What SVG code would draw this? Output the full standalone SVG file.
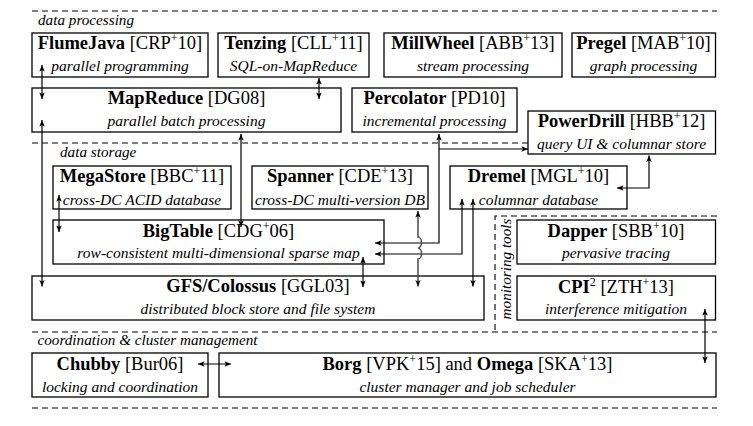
<svg xmlns="http://www.w3.org/2000/svg" width="753" height="426" viewBox="0 0 753 426">
<style>
text{font-family:'Liberation Serif','Times New Roman',Times,'DejaVu Serif',serif;fill:#000}
.box{fill:#fff;stroke:#000;stroke-width:1.3}
.t{font-size:18.5px;text-anchor:middle}
.b{font-weight:bold}
.sup{font-size:12px}
.s{font-style:italic;font-size:15.5px;text-anchor:middle}
.sec{font-style:italic;font-size:15.2px}
.dash{stroke:#000;stroke-width:1.1;stroke-dasharray:6 4;fill:none}
.c{stroke:#000;stroke-width:1.2;fill:none;marker-start:url(#ah);marker-end:url(#ah)}
.c1{stroke:#000;stroke-width:1.2;fill:none;marker-end:url(#ah)}
.w{stroke:#555;stroke-width:1.6;fill:none;marker-start:url(#ah);marker-end:url(#ah)}
</style>
<defs>
<marker id="ah" markerUnits="userSpaceOnUse" viewBox="-8 -4 9 8" refX="0" refY="0" markerWidth="9" markerHeight="8" orient="auto-start-reverse">
<path d="M0,0 L-6.5,-2.7 L-5,0 L-6.5,2.7 Z" fill="#000"/>
</marker>
</defs>
<g id="sections" font-family="Liberation Serif, serif">
<line class="dash" x1="32" y1="11" x2="717" y2="11"/>
<text class="sec" x="38" y="25">data processing</text>
<line class="dash" x1="32" y1="143" x2="528" y2="143"/>
<text class="sec" x="60" y="157">data storage</text>
<polyline class="dash" points="717,216 495,216 495,332"/>
<text class="sec" transform="translate(511,269) rotate(-90)" text-anchor="middle">monitoring tools</text>
<line class="dash" x1="32" y1="332" x2="717" y2="332"/>
<text class="sec" x="37.5" y="345">coordination &amp; cluster management</text>
<line class="dash" x1="32" y1="408" x2="717" y2="408"/>
</g>
<g id="flumejava">
<rect class="box" x="32" y="33" width="176" height="44"/>
<text class="t" x="120" y="49"><tspan class="b">FlumeJava</tspan> [CRP<tspan class="sup" dy="-7">+</tspan><tspan dy="7">10]</tspan></text>
<text class="s" x="120" y="71">parallel programming</text>
</g>
<g id="tenzing">
<rect class="box" x="218" y="33" width="151" height="44"/>
<text class="t" x="293.5" y="49"><tspan class="b">Tenzing</tspan> [CLL<tspan class="sup" dy="-7">+</tspan><tspan dy="7">11]</tspan></text>
<text class="s" x="293.5" y="71">SQL-on-MapReduce</text>
</g>
<g id="millwheel">
<rect class="box" x="384" y="33" width="178" height="44"/>
<text class="t" x="473" y="49"><tspan class="b">MillWheel</tspan> [ABB<tspan class="sup" dy="-7">+</tspan><tspan dy="7">13]</tspan></text>
<text class="s" x="473" y="71">stream processing</text>
</g>
<g id="pregel">
<rect class="box" x="572" y="33" width="143.5" height="44"/>
<text class="t" x="643.5" y="49"><tspan class="b">Pregel</tspan> [MAB<tspan class="sup" dy="-7">+</tspan><tspan dy="7">10]</tspan></text>
<text class="s" x="643.5" y="71">graph processing</text>
</g>
<g id="mapreduce">
<rect class="box" x="32" y="88" width="309" height="44"/>
<text class="t" x="186.5" y="104"><tspan class="b">MapReduce</tspan> [DG08]</text>
<text class="s" x="186.5" y="126">parallel batch processing</text>
</g>
<g id="percolator">
<rect class="box" x="352" y="88" width="165" height="44"/>
<text class="t" x="434.5" y="104"><tspan class="b">Percolator</tspan> [PD10]</text>
<text class="s" x="434.5" y="126">incremental processing</text>
</g>
<g id="powerdrill">
<rect class="box" x="528" y="111" width="187.5" height="43"/>
<text class="t" x="621.5" y="127"><tspan class="b">PowerDrill</tspan> [HBB<tspan class="sup" dy="-7">+</tspan><tspan dy="7">12]</tspan></text>
<text class="s" x="621.5" y="148.5">query UI &amp; columnar store</text>
</g>
<g id="megastore">
<rect class="box" x="53" y="166" width="178" height="43"/>
<text class="t" x="142" y="182"><tspan class="b">MegaStore</tspan> [BBC<tspan class="sup" dy="-7">+</tspan><tspan dy="7">11]</tspan></text>
<text class="s" x="142" y="204.5">cross-DC ACID database</text>
</g>
<g id="spanner">
<rect class="box" x="252" y="166" width="176" height="43"/>
<text class="t" x="340" y="182"><tspan class="b">Spanner</tspan> [CDE<tspan class="sup" dy="-7">+</tspan><tspan dy="7">13]</tspan></text>
<text class="s" x="340" y="204.5">cross-DC multi-version DB</text>
</g>
<g id="dremel">
<rect class="box" x="450" y="166" width="177" height="43"/>
<text class="t" x="538.5" y="182"><tspan class="b">Dremel</tspan> [MGL<tspan class="sup" dy="-7">+</tspan><tspan dy="7">10]</tspan></text>
<text class="s" x="538.5" y="204.5">columnar database</text>
</g>
<g id="bigtable">
<rect class="box" x="53" y="220" width="331" height="44"/>
<text class="t" x="218.5" y="236.5"><tspan class="b">BigTable</tspan> [CDG<tspan class="sup" dy="-7">+</tspan><tspan dy="7">06]</tspan></text>
<text class="s" x="218.5" y="258">row-consistent multi-dimensional sparse map</text>
</g>
<g id="dapper">
<rect class="box" x="517" y="220" width="198.5" height="44"/>
<text class="t" x="616" y="236.5"><tspan class="b">Dapper</tspan> [SBB<tspan class="sup" dy="-7">+</tspan><tspan dy="7">10]</tspan></text>
<text class="s" x="616" y="258">pervasive tracing</text>
</g>
<g id="gfs">
<rect class="box" x="32" y="276" width="452" height="44"/>
<text class="t" x="258" y="291.5"><tspan class="b">GFS/Colossus</tspan> [GGL03]</text>
<text class="s" x="258" y="313.5">distributed block store and file system</text>
</g>
<g id="cpi2">
<rect class="box" x="517" y="276" width="198.5" height="44"/>
<text class="t" x="616" y="292.5"><tspan class="b">CPI</tspan><tspan class="sup" dy="-7">2</tspan><tspan dy="7"> [ZTH</tspan><tspan class="sup" dy="-7">+</tspan><tspan dy="7">13]</tspan></text>
<text class="s" x="616" y="314">interference mitigation</text>
</g>
<g id="chubby">
<rect class="box" x="32" y="353" width="176" height="44"/>
<text class="t" x="120" y="369.5"><tspan class="b">Chubby</tspan> [Bur06]</text>
<text class="s" x="120" y="391.5">locking and coordination</text>
</g>
<g id="borg">
<rect class="box" x="219" y="353" width="497" height="44"/>
<text class="t" x="467.5" y="369.5"><tspan class="b">Borg</tspan> [VPK<tspan class="sup" dy="-7">+</tspan><tspan dy="7">15] and </tspan><tspan class="b">Omega</tspan> [SKA<tspan class="sup" dy="-7">+</tspan><tspan dy="7">13]</tspan></text>
<text class="s" x="467.5" y="391.5">cluster manager and job scheduler</text>
</g>
<g id="connectors">
<line class="c" x1="42" y1="65" x2="42" y2="99"/>
<line class="c" x1="319" y1="78" x2="319" y2="99"/>
<line class="c" x1="42" y1="120" x2="42" y2="286.5"/>
<line class="c" x1="241" y1="134" x2="241" y2="227"/>
<line class="c" x1="59" y1="195" x2="59" y2="232"/>
<polyline class="c" points="439,134 439,243 375,243"/>
<polyline class="c1" points="439,149 528,149"/>
<polyline class="c" points="462,199 462,254 375,254"/>
<line class="c" x1="473" y1="199" x2="473" y2="286.5"/>
<path class="w" d="M418,211 V237 a3.5,5.5 0 0 1 0,11 a3.5,5.5 0 0 1 0,11 V286.5"/>
<polyline class="c" points="617,188 649,188 649,155.5"/>
<line class="c" x1="363" y1="257" x2="363" y2="287"/>
<line class="c" x1="705" y1="309" x2="705" y2="363"/>
<line class="c" x1="198" y1="364" x2="231" y2="364"/>
</g>
</svg>
